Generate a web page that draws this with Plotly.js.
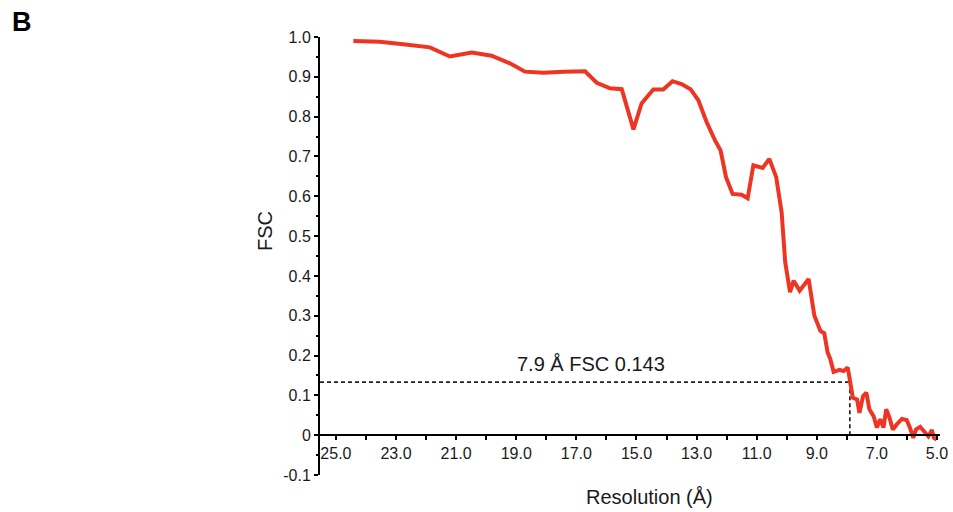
<!DOCTYPE html>
<html>
<head>
<meta charset="utf-8">
<script src="https://cdn.plot.ly/plotly-3.0.1.min.js"></script>
<style>html,body{margin:0;padding:0;background:#fff;}#chart{width:953px;height:512px;}</style>
</head>
<body>
<div id="chart"></div>
<script>
// Resolution (Å) and FSC values
const resolution = [24.42, 23.54, 22.76, 21.87, 21.21, 20.48, 19.82, 19.21, 18.71, 18.10,
  17.43, 16.71, 16.32, 15.88, 15.49, 15.10, 14.83, 14.44, 14.11, 13.80,
  13.50, 13.20, 12.94, 12.67, 12.39, 12.20, 12.02, 11.80, 11.50, 11.30,
  11.11, 10.80, 10.58, 10.35, 10.17, 10.05, 9.89, 9.77, 9.57, 9.27,
  9.08, 8.88, 8.75, 8.64, 8.55, 8.44, 8.24, 8.11, 7.97, 7.88,
  7.80, 7.66, 7.58, 7.46, 7.35, 7.25, 7.11, 7.00, 6.89, 6.78,
  6.69, 6.58, 6.47, 6.34, 6.17, 6.01, 5.90, 5.79, 5.70, 5.56,
  5.40, 5.29, 5.17, 5.10, 5.01];
const fsc = [0.990, 0.988, 0.982, 0.974, 0.951, 0.961, 0.953, 0.934, 0.913, 0.910,
  0.913, 0.914, 0.885, 0.871, 0.869, 0.768, 0.833, 0.868, 0.868, 0.889,
  0.882, 0.869, 0.841, 0.787, 0.741, 0.715, 0.648, 0.606, 0.604, 0.595,
  0.678, 0.671, 0.694, 0.648, 0.560, 0.434, 0.359, 0.388, 0.363, 0.392,
  0.300, 0.262, 0.256, 0.208, 0.191, 0.159, 0.164, 0.161, 0.170, 0.136,
  0.094, 0.090, 0.056, 0.098, 0.107, 0.065, 0.048, 0.019, 0.040, 0.019,
  0.065, 0.044, 0.014, 0.027, 0.041, 0.038, 0.019, -0.007, 0.014, 0.021,
  0.006, -0.003, 0.013, -0.007, -0.011];

const cutoffRes = 7.9;
const cutoffFsc = 0.133;
const cutoffLabel = "7.9 Å FSC 0.143";

const yTickVals = [1.0, 0.9, 0.8, 0.7, 0.6, 0.5, 0.4, 0.3, 0.2, 0.1, 0, -0.1];
const yTickText = ["1.0", "0.9", "0.8", "0.7", "0.6", "0.5", "0.4", "0.3", "0.2", "0.1", "0", "-0.1"];

const xRange = [25.53, 4.9];
const yRange = [-0.1, 1.0];

const FONT = '"Liberation Sans", Arial, Helvetica, sans-serif';
const RED = '#EE3524';

const traces = [
  {
    x: [xRange[0], cutoffRes], y: [cutoffFsc, cutoffFsc],
    mode: 'lines', line: {color: '#222', width: 1.7, dash: '4px,3px'},
    hoverinfo: 'skip', showlegend: false, cliponaxis: false
  },
  {
    x: [cutoffRes, cutoffRes], y: [cutoffFsc, 0],
    mode: 'lines', line: {color: '#222', width: 1.7, dash: '4px,3px'},
    hoverinfo: 'skip', showlegend: false, cliponaxis: false
  },
  {
    x: resolution, y: fsc,
    mode: 'lines', line: {color: RED, width: 4, shape: 'linear'},
    showlegend: false, cliponaxis: false
  }
];

const layout = {
  width: 953, height: 512,
  margin: {l: 320, r: 13, t: 37, b: 37},
  paper_bgcolor: '#fff', plot_bgcolor: 'rgba(0,0,0,0)',
  font: {family: FONT, color: '#1a1a1a', size: 16},
  showlegend: false,
  xaxis: {
    range: xRange,
    anchor: 'free',
    position: (0 - yRange[0]) / (yRange[1] - yRange[0]),
    showline: true, linecolor: '#000', linewidth: 2,
    showgrid: false, zeroline: false,
    tickmode: 'linear', tick0: 5, dtick: 2, tickformat: '.1f',
    ticks: 'outside', ticklen: 4, tickwidth: 2, tickcolor: '#000',
    tickfont: {family: FONT, size: 16, color: '#1a1a1a'},
    minor: {tickmode: 'linear', tick0: 0, dtick: 1, ticks: 'outside', ticklen: 4, tickwidth: 2, tickcolor: '#000'}
  },
  yaxis: {
    range: yRange,
    showline: true, linecolor: '#000', linewidth: 2,
    showgrid: false, zeroline: false,
    tickmode: 'array', tickvals: yTickVals, ticktext: yTickText,
    ticks: 'outside', ticklen: 4, tickwidth: 2, tickcolor: '#000',
    tickfont: {family: FONT, size: 16, color: '#1a1a1a'},
    minor: {tickmode: 'linear', tick0: 0.05, dtick: 0.1, ticks: 'outside', ticklen: 2, tickwidth: 2, tickcolor: '#000'}
  },
  annotations: [
    {text: cutoffLabel, xref: 'x', yref: 'y', x: 16.5, y: 0.178,
     showarrow: false, xanchor: 'center', yanchor: 'middle',
     font: {family: FONT, size: 20, color: '#1a1a1a'}},
    {text: 'Resolution (Å)', xref: 'paper', yref: 'paper', x: 0.532, y: -0.05,
     showarrow: false, xanchor: 'center', yanchor: 'middle',
     font: {family: FONT, size: 20, color: '#1a1a1a'}},
    {text: 'FSC', xref: 'paper', yref: 'paper', x: -0.0887, y: 0.557, textangle: -90,
     showarrow: false, xanchor: 'center', yanchor: 'middle',
     font: {family: FONT, size: 20, color: '#1a1a1a'}},
    {text: '<b>B</b>', xref: 'paper', yref: 'paper', x: -0.481, y: 1.034,
     showarrow: false, xanchor: 'center', yanchor: 'middle',
     font: {family: FONT, size: 27, color: '#000'}}
  ]
};

Plotly.newPlot('chart', traces, layout, {displayModeBar: false, staticPlot: true});
</script>
</body>
</html>
